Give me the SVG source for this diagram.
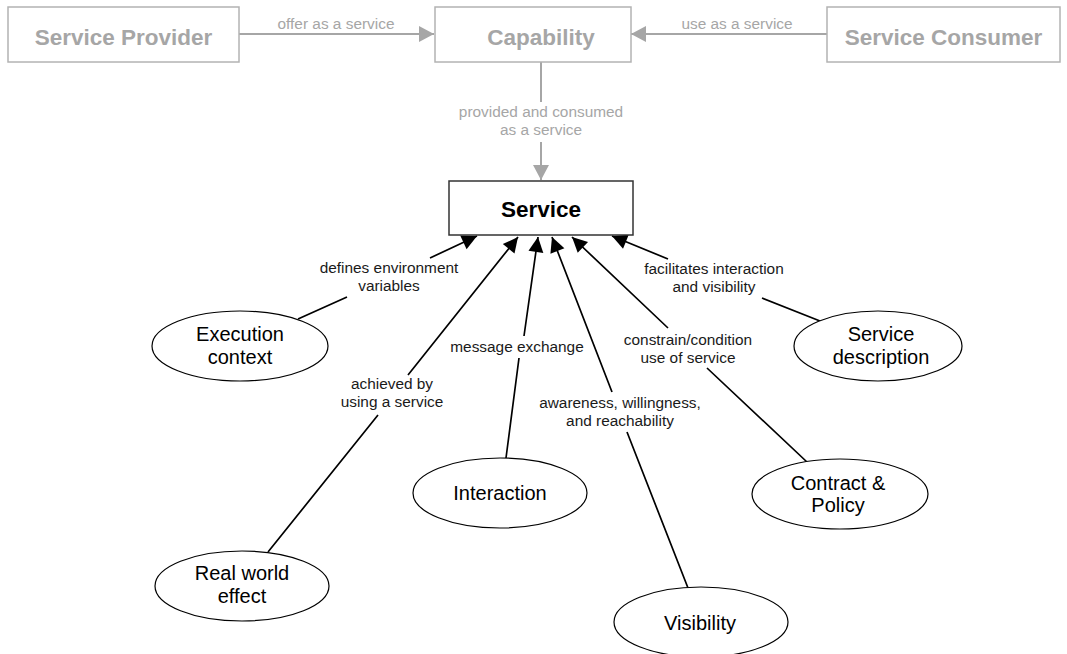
<svg xmlns="http://www.w3.org/2000/svg" width="1067" height="654" viewBox="0 0 1067 654">
  <style>
    .box-muted { fill: #ffffff; stroke: #b3b3b3; stroke-width: 1.5; }
    .box-main { fill: #ffffff; stroke: #333333; stroke-width: 1.5; }
    .oval { fill: #ffffff; stroke: #000000; stroke-width: 1.2; }
    .title-muted { font-family: "Liberation Sans", Arial, sans-serif; font-size: 22.5px; font-weight: bold; fill: #a6a6a6; text-anchor: middle; }
    .title-main { font-family: "Liberation Sans", Arial, sans-serif; font-size: 22.5px; font-weight: bold; fill: #000000; text-anchor: middle; }
    .oval-text { font-family: "Liberation Sans", Arial, sans-serif; font-size: 20px; fill: #000000; text-anchor: middle; }
    .label { font-family: "Liberation Sans", Arial, sans-serif; font-size: 15.4px; fill: #1a1a1a; text-anchor: middle; }
    .label-muted { font-family: "Liberation Sans", Arial, sans-serif; font-size: 15.4px; fill: #a6a6a6; text-anchor: middle; }
    .link { fill: none; stroke: #000000; stroke-width: 1.7; marker-end: url(#head-black); }
    .link-muted { fill: none; stroke: #a6a6a6; stroke-width: 2; marker-end: url(#head-grey); }
  </style>
  <defs>
    <marker id="head-black" viewBox="-16 -8 17 16" refX="0" refY="0" markerWidth="17" markerHeight="16" markerUnits="userSpaceOnUse" orient="auto">
      <path d="M0,0 L-15,-7.5 L-15,7.5 Z" fill="#000000"/>
    </marker>
    <marker id="head-grey" viewBox="-16 -8 17 16" refX="0" refY="0" markerWidth="17" markerHeight="16" markerUnits="userSpaceOnUse" orient="auto">
      <path d="M0,0 L-15,-8 L-15,8 Z" fill="#a6a6a6"/>
    </marker>
  </defs>

  <!-- connectors (each drawn as two pieces around its label) -->
  <g id="connectors">
    <path class="link-muted" d="M239,34 L434,34"/>
    <path class="link-muted" d="M827,34 L631,34"/>
    <path class="link-muted" d="M541,62 L541,102 M541,142 L541,180"/>

    <path class="link" d="M298,319 L347,297 M430,258 L477,236"/>
    <path class="link" d="M268,552 L378,415 M408,375 L518,237"/>
    <path class="link" d="M506,458 L519,358 M524,336 L538,237"/>
    <path class="link" d="M688,588 L627,432 M612,392 L552,237"/>
    <path class="link" d="M807,462 L707,368 M668,328 L572,237"/>
    <path class="link" d="M820,321 L762,298 M668,259 L612,236"/>
  </g>

  <!-- connector labels -->
  <g id="labels">
    <text class="label-muted" x="336" y="29">offer as a service</text>
    <text class="label-muted" x="737" y="29">use as a service</text>
    <text class="label-muted" x="541" y="117">provided and consumed</text>
    <text class="label-muted" x="541" y="135">as a service</text>

    <text class="label" x="389" y="273">defines environment</text>
    <text class="label" x="389" y="291">variables</text>
    <text class="label" x="392" y="389">achieved by</text>
    <text class="label" x="392" y="407">using a service</text>
    <text class="label" x="517" y="352">message exchange</text>
    <text class="label" x="620" y="408">awareness, willingness,</text>
    <text class="label" x="620" y="426">and reachability</text>
    <text class="label" x="688" y="345">constrain/condition</text>
    <text class="label" x="688" y="363">use of service</text>
    <text class="label" x="714" y="274">facilitates interaction</text>
    <text class="label" x="714" y="292">and visibility</text>
  </g>

  <!-- top row -->
  <g id="service-provider">
    <rect class="box-muted" x="8" y="7" width="231" height="55"/>
    <text class="title-muted" x="123.5" y="45">Service Provider</text>
  </g>
  <g id="capability">
    <rect class="box-muted" x="435" y="7" width="196" height="55"/>
    <text class="title-muted" x="541" y="45">Capability</text>
  </g>
  <g id="service-consumer">
    <rect class="box-muted" x="827" y="7" width="233" height="55"/>
    <text class="title-muted" x="943.5" y="45">Service Consumer</text>
  </g>

  <!-- central concept -->
  <g id="service">
    <rect class="box-main" x="449" y="181" width="184" height="54"/>
    <text class="title-main" x="541" y="217">Service</text>
  </g>

  <!-- related concepts -->
  <g id="execution-context">
    <ellipse class="oval" cx="240" cy="346" rx="88" ry="35"/>
    <text class="oval-text" x="240" y="341">Execution</text>
    <text class="oval-text" x="240" y="364">context</text>
  </g>
  <g id="service-description">
    <ellipse class="oval" cx="878" cy="346" rx="84" ry="35"/>
    <text class="oval-text" x="881" y="341">Service</text>
    <text class="oval-text" x="881" y="364">description</text>
  </g>
  <g id="interaction">
    <ellipse class="oval" cx="500" cy="493" rx="87" ry="35"/>
    <text class="oval-text" x="500" y="500">Interaction</text>
  </g>
  <g id="contract-policy">
    <ellipse class="oval" cx="840" cy="494" rx="88" ry="35"/>
    <text class="oval-text" x="838" y="490">Contract &amp;</text>
    <text class="oval-text" x="838" y="512">Policy</text>
  </g>
  <g id="real-world-effect">
    <ellipse class="oval" cx="242" cy="586" rx="87" ry="35"/>
    <text class="oval-text" x="242" y="580">Real world</text>
    <text class="oval-text" x="242" y="603">effect</text>
  </g>
  <g id="visibility">
    <ellipse class="oval" cx="701" cy="622" rx="87" ry="35"/>
    <text class="oval-text" x="700" y="630">Visibility</text>
  </g>
</svg>
